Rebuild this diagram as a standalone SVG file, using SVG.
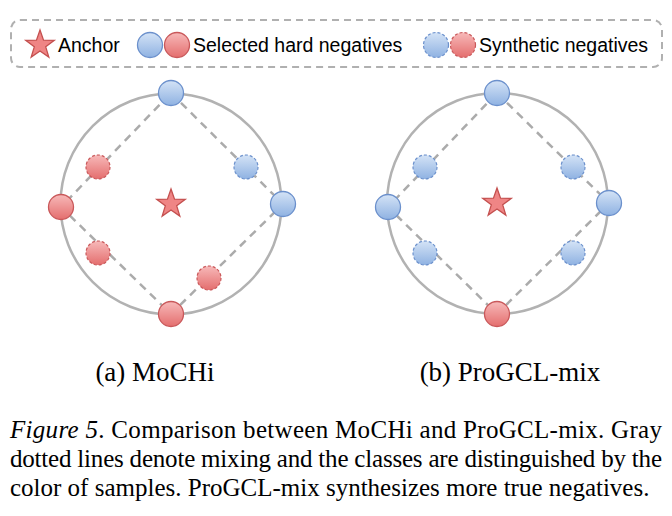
<svg xmlns="http://www.w3.org/2000/svg" width="672" height="516" viewBox="0 0 672 516" xmlns:xlink="http://www.w3.org/1999/xlink">
<defs>
<linearGradient id="gB" x1="0" y1="0" x2="0" y2="1"><stop offset="0" stop-color="#d4e3f6"/><stop offset="1" stop-color="#8fb2e2"/></linearGradient>
<linearGradient id="gR" x1="0" y1="0" x2="0" y2="1"><stop offset="0" stop-color="#f7b9b9"/><stop offset="1" stop-color="#e46e6e"/></linearGradient>
<path id="star" d="M0,-15 L3.53,-4.85 L14.27,-4.64 L5.71,1.85 L8.82,12.14 L0,6 L-8.82,12.14 L-5.71,1.85 L-14.27,-4.64 L-3.53,-4.85 Z"/>
</defs>
<style>
.legendbox{fill:none;stroke:#b0b0b0;stroke-width:2;stroke-dasharray:7 5}
.ring{fill:none;stroke:#b2b2b2;stroke-width:2.5}
.mix{stroke:#ababab;stroke-width:2.5;stroke-dasharray:8 6;fill:none}
.hb{fill:url(#gB);stroke:#6b90cc;stroke-width:1.3}
.hr{fill:url(#gR);stroke:#c9585a;stroke-width:1.3}
.sb{fill:url(#gB);stroke:#6b90cc;stroke-width:1.2;stroke-dasharray:3 2}
.sr{fill:url(#gR);stroke:#c9585a;stroke-width:1.2;stroke-dasharray:3 2}
.anchor{fill:#ef8585;stroke:#c4504f;stroke-width:1.3}
.lg{font-family:"Liberation Sans",Arial,sans-serif;font-size:19.5px;fill:#000}
.sub{font-family:"Liberation Serif","Times New Roman",serif;font-size:27px;fill:#000}
.cap{font-family:"Liberation Serif","Times New Roman",serif;font-size:25px;fill:#000}
</style>
<rect width="672" height="516" fill="#fff"/>

<g id="legend">
<rect class="legendbox" x="11" y="20" width="651" height="47" rx="9"/>
<use href="#star" xlink:href="#star" class="anchor" x="40" y="45"/>
<text class="lg" x="58" y="52">Anchor</text>
<circle class="hb" cx="150" cy="45" r="12.5"/>
<circle class="hr" cx="177" cy="45" r="12.5"/>
<text class="lg" x="193" y="52">Selected hard negatives</text>
<circle class="sb" cx="436" cy="45" r="12.5"/>
<circle class="sr" cx="463" cy="45" r="12.5"/>
<text class="lg" x="479" y="52">Synthetic negatives</text>
</g>

<g id="connectors">
<circle class="ring" cx="171" cy="204" r="110.5"/>
<polygon class="mix" points="171,93 283,204 171,314 61,207"/>
<circle class="ring" cx="497.5" cy="203.5" r="110.5"/>
<polygon class="mix" points="497,93 609,203 497,314 388,207"/>
</g>

<g id="mochi">
<g id="a-anchor"><use href="#star" xlink:href="#star" class="anchor" x="171" y="204"/></g>
<g id="a-top"><circle class="hb" cx="171" cy="93" r="12.5"/></g>
<g id="a-right"><circle class="hb" cx="283" cy="204" r="12.5"/></g>
<g id="a-bottom"><circle class="hr" cx="171" cy="314" r="12.5"/></g>
<g id="a-left"><circle class="hr" cx="61" cy="207" r="12.5"/></g>
<g id="a-s1"><circle class="sr" cx="98" cy="167" r="12"/></g>
<g id="a-s2"><circle class="sb" cx="246" cy="167" r="12"/></g>
<g id="a-s3"><circle class="sr" cx="98" cy="253" r="12"/></g>
<g id="a-s4"><circle class="sr" cx="209" cy="278" r="12"/></g>
</g>

<g id="progcl">
<g id="b-anchor"><use href="#star" xlink:href="#star" class="anchor" x="497" y="203"/></g>
<g id="b-top"><circle class="hb" cx="497" cy="93" r="12.5"/></g>
<g id="b-right"><circle class="hb" cx="609" cy="203" r="12.5"/></g>
<g id="b-bottom"><circle class="hr" cx="497" cy="314" r="12.5"/></g>
<g id="b-left"><circle class="hb" cx="388" cy="207" r="12.5"/></g>
<g id="b-s1"><circle class="sb" cx="425" cy="167" r="12"/></g>
<g id="b-s2"><circle class="sb" cx="573" cy="167" r="12"/></g>
<g id="b-s3"><circle class="sb" cx="425" cy="253" r="12"/></g>
<g id="b-s4"><circle class="sb" cx="573" cy="253" r="12"/></g>
</g>

<g id="labels">
<text class="sub" x="155" y="381" text-anchor="middle">(a) MoCHi</text>
<text class="sub" x="510" y="381" text-anchor="middle">(b) ProGCL-mix</text>
</g>

<g id="caption">
<text class="cap" x="10" y="438" textLength="652" lengthAdjust="spacing"><tspan font-style="italic">Figure 5</tspan>. Comparison between MoCHi and ProGCL-mix. Gray</text>
<text class="cap" x="10" y="467" textLength="652" lengthAdjust="spacing">dotted lines denote mixing and the classes are distinguished by the</text>
<text class="cap" x="10" y="496">color of samples. ProGCL-mix synthesizes more true negatives.</text>
</g>
</svg>
